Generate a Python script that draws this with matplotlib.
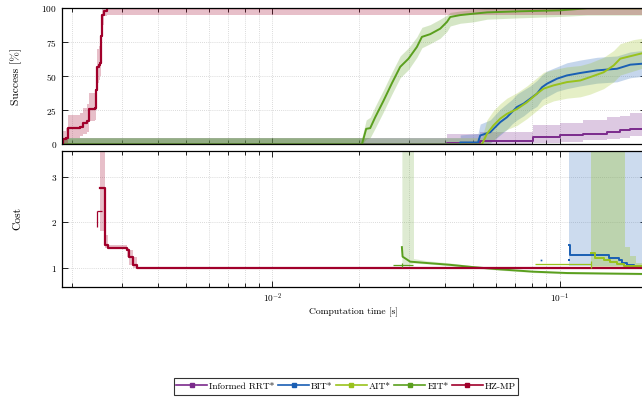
import numpy as np
import matplotlib
matplotlib.use('Agg')
import matplotlib.pyplot as plt
from matplotlib.lines import Line2D
from matplotlib.ticker import LogLocator, NullFormatter, FixedLocator

plt.rcParams['font.family'] = ['cmr10', 'DejaVu Serif']
plt.rcParams['mathtext.fontset'] = 'cm'
plt.rcParams['axes.formatter.use_mathtext'] = True

# ---------------- data ----------------
planners = ['Informed RRT*', 'BIT*', 'AIT*', 'EIT*', 'HZ-MP']
colors = ['#7b2a8c', '#1a5fb4', '#99c21c', '#5a9f1e', '#a1002b']
x_range = [0.001845, 0.2]

# success [%]
rrt_t = [0.001845, 0.04063, 0.05292, 0.08097, 0.1006, 0.1209, 0.1463, 0.1627, 0.1763, 0.2]
rrt_s = [0, 1, 2.5, 5.4, 6.6, 7.8, 9, 10.3, 11.5, 12]
rrt_lo = [0, 0, 0, 1, 2, 3, 4, 5, 6, 6]
rrt_hi = [5, 8, 9, 14, 16, 18, 20, 21, 23, 23]

bit_t = [0.001845, 0.04508, 0.04508, 0.05200, 0.05292, 0.05734, 0.05970, 0.06215, 0.06557,
         0.06825, 0.07105, 0.07492, 0.07904, 0.08342, 0.08684, 0.09040, 0.09793, 0.1061,
         0.1181, 0.1350, 0.1585, 0.1763, 0.1942, 0.2]
bit_s = [0, 0, 1.5, 1.5, 6.6, 9, 12.7, 16.4, 20, 23.8, 27.5, 30, 33.6, 37.3, 42, 44.6, 48.3,
         50.7, 52.5, 54.4, 55.6, 58.6, 59.3, 59.5]
bit_lo = [0, 0, 0, 0, 0, 1, 4, 7, 11, 15, 18, 21, 25, 28, 33, 35, 39, 41, 43, 45, 46, 49, 50, 50]
bit_hi = [5, 5, 7, 8, 15, 18, 22, 26, 30, 33, 37, 40, 43, 47, 51, 54, 57, 60, 62, 64, 65, 68, 69, 69]

ait_t = [0.001845, 0.05364, 0.05585, 0.05888, 0.06215, 0.06557, 0.07105, 0.07699, 0.08342,
         0.08796, 0.09530, 0.1061, 0.1181, 0.1279, 0.1424, 0.1543, 0.1627, 0.1810, 0.1942, 0.2]
ait_s = [0, 0, 7.8, 14, 19, 22.5, 26, 31, 37.3, 41, 43.4, 45.8, 47, 49.5, 53, 58, 63, 65.4, 67, 68]
ait_lo = [0, 0, 0, 3, 8, 11, 14, 19, 25, 29, 32, 34, 35, 37, 41, 46, 51, 54, 56, 57]
ait_hi = [5, 5, 18, 25, 30, 34, 38, 43, 49, 53, 55, 57, 58, 60, 64, 69, 74, 77, 78, 79]

eit_t = [0.001845, 0.02049, 0.02121, 0.02190, 0.02280, 0.02436, 0.02607, 0.02786, 0.02978,
         0.03185, 0.03316, 0.03543, 0.03839, 0.04054, 0.04161, 0.04508, 0.05004, 0.05599,
         0.07297, 0.1006, 0.1249, 0.2]
eit_s = [0, 0, 11.5, 12, 20, 32, 45, 57, 63, 71.6, 79, 81, 85, 90, 93.6, 95, 96, 97, 97.8,
         98.5, 100, 100]
eit_lo = [0, 0, 4, 5, 12, 24, 37, 49, 55, 64, 71, 74, 78, 83, 87, 89, 90, 92, 93, 94, 95, 95]
eit_hi = [5, 5, 18, 20, 28, 40, 53, 65, 71, 79, 86, 88, 92, 95, 97, 98, 99, 100, 100, 100, 100, 100]

hz_t = [0.001845, 0.001858, 0.001910, 0.001933, 0.002138, 0.002190, 0.002262, 0.002298,
        0.002411, 0.002431, 0.002450, 0.002490, 0.002510, 0.002530, 0.002550, 0.002592,
        0.002655, 0.2]
hz_s = [0, 4, 5, 12, 13, 16, 17, 26, 27, 40, 57, 58, 60, 80, 95, 98, 100, 100]
hz_lo = [0, 0, 1, 5, 6, 8, 9, 17, 18, 25, 45, 47, 50, 68, 88, 94, 95, 95]
hz_hi = [6, 10, 12, 22, 23, 27, 30, 38, 40, 55, 70, 72, 75, 92, 100, 100, 100, 100]

# cost
hz_ct = [0.002510, 0.002613, 0.002683, 0.003109, 0.003174, 0.003279, 0.003369, 0.2]
hz_c = [2.75, 1.50, 1.44, 1.39, 1.24, 1.06, 1.00, 1.00]
hz_clo = [1.80, 1.44, 1.40, 1.24, 1.06, 1.00, 1.00, 1.00]
hz_chi = [4.0, 1.72, 1.50, 1.44, 1.39, 1.24, 1.00, 1.00]

eit_ct = [0.02824, 0.02840, 0.03018, 0.03451, 0.04161, 0.05004, 0.06215, 0.08097, 0.1064, 0.1942, 0.2]
eit_c = [1.45, 1.24, 1.13, 1.10, 1.06, 1.01, 0.96, 0.91, 0.88, 0.86, 0.86]
eit_cbt = [0.02824, 0.03099, 0.03099, 0.03451, 0.04161, 0.05004, 0.06215, 0.08097, 0.1064, 0.2]
eit_clo = [1.04, 1.10, 1.10, 1.08, 1.04, 0.99, 0.94, 0.89, 0.86, 0.84]
eit_chi = [4.0, 4.0, 1.20, 1.15, 1.10, 1.04, 0.98, 0.93, 0.90, 0.88]

bit_ct = [0.1081, 0.1090, 0.1481, 0.1605, 0.1650, 0.1717, 0.1810, 0.2]
bit_c = [1.50, 1.28, 1.21, 1.17, 1.10, 1.06, 1.04, 1.04]
bit_clo = [1.03, 1.03, 1.03, 1.03, 1.03, 1.02, 1.02, 1.02]
bit_chi = [4.0, 4.0, 4.0, 4.0, 4.0, 4.0, 4.0, 4.0]

ait_ct = [0.1290, 0.1332, 0.1424, 0.1502, 0.1585, 0.1671, 0.1763, 0.2]
ait_c = [1.33, 1.21, 1.17, 1.13, 1.08, 1.04, 1.03, 1.02]
ait_cbt = [0.1290, 0.1694, 0.1763, 0.1850, 0.2]
ait_clo = [1.02, 1.01, 1.00, 1.00, 1.00]
ait_chi = [4.0, 1.45, 1.25, 1.10, 1.10]

# initial solution markers (HZ-MP, EIT*, AIT*)
init_time = [0.002450, 0.02824, 0.1290]
init_cost = [2.24, 1.06, 1.07]
init_time_lo = [0.002450, 0.02628, 0.08227]
init_time_hi = [0.002544, 0.03099, 0.1290]
init_cost_lo = [1.90, 1.02, 0.99]
init_cost_hi = [2.24, 1.11, 1.14]
init_color_idx = [4, 3, 2]
bit_init_time = [0.08634, 0.1075]
bit_init_cost = [1.17, 1.17]
bit_init_size = [1.2, 2.0]

# ---------------- figure ----------------
fig = plt.figure(figsize=(6.42, 4.0), dpi=100)
ax1 = fig.add_axes([0.0961, 0.6388, 0.9101, 0.3405])
ax2 = fig.add_axes([0.0961, 0.2833, 0.9101, 0.3390])

ALPHA = 0.25
LW = 1.4

# success
ax1.fill_between(rrt_t, rrt_lo, rrt_hi, step='post', color=colors[0], alpha=ALPHA, lw=0)
ax1.step(rrt_t, rrt_s, where='post', color=colors[0], lw=LW)
ax1.fill_between(bit_t, bit_lo, bit_hi, color=colors[1], alpha=ALPHA, lw=0)
ax1.plot(bit_t, bit_s, color=colors[1], lw=LW)
ax1.fill_between(ait_t, ait_lo, ait_hi, color=colors[2], alpha=ALPHA, lw=0)
ax1.plot(ait_t, ait_s, color=colors[2], lw=LW)
ax1.fill_between(eit_t, eit_lo, eit_hi, color=colors[3], alpha=ALPHA, lw=0)
ax1.plot(eit_t, eit_s, color=colors[3], lw=LW)
ax1.fill_between(hz_t, hz_lo, hz_hi, step='post', color=colors[4], alpha=ALPHA, lw=0)
ax1.step(hz_t, hz_s, where='post', color=colors[4], lw=1.6)

# cost
ax2.fill_between(bit_ct, bit_clo, bit_chi, step='post', color=colors[1], alpha=0.22, lw=0)
ax2.step(bit_ct, bit_c, where='post', color=colors[1], lw=LW)
ax2.fill_between(ait_cbt, ait_clo, ait_chi, step='post', color=colors[2], alpha=0.3, lw=0)
ax2.step(ait_ct, ait_c, where='post', color=colors[2], lw=LW)
ax2.fill_between(eit_cbt, eit_clo, eit_chi, color=colors[3], alpha=0.2, lw=0)
ax2.plot(eit_ct, eit_c, color=colors[3], lw=LW)
ax2.fill_between(hz_ct, hz_clo, hz_chi, step='post', color=colors[4], alpha=ALPHA, lw=0)
ax2.step(hz_ct, hz_c, where='post', color=colors[4], lw=1.6)

for i in range(len(init_time)):
    c = colors[init_color_idx[i]]
    ax2.errorbar([init_time[i]], [init_cost[i]],
                 xerr=[[init_time[i] - init_time_lo[i]], [init_time_hi[i] - init_time[i]]],
                 yerr=[[init_cost[i] - init_cost_lo[i]], [init_cost_hi[i] - init_cost[i]]],
                 fmt='none', ecolor=c, elinewidth=0.9, capsize=0)
for bt, bc, bs in zip(bit_init_time, bit_init_cost, bit_init_size):
    ax2.plot([bt], [bc], ls='none', marker='s', ms=bs, mew=0, color=colors[1])

# axes styling
for ax in (ax1, ax2):
    ax.set_xscale('log')
    ax.set_xlim(*x_range)
    ax.xaxis.set_major_locator(LogLocator(base=10))
    ax.xaxis.set_minor_locator(LogLocator(base=10, subs=np.arange(2, 10)))
    ax.xaxis.set_minor_formatter(NullFormatter())
    ax.set_axisbelow(True)
    ax.grid(True, which='both', axis='x', ls=(0, (1, 1.5)), color='#cfcfcf', lw=0.6)
    ax.grid(True, which='major', axis='y', ls=(0, (1, 1.5)), color='#cfcfcf', lw=0.6)
    ax.tick_params(which='both', direction='in', top=True, right=True, labelsize=6.7,
                   width=0.6, pad=3.5)
    ax.tick_params(which='major', length=4)
    ax.tick_params(which='minor', length=2.8)
    for s in ax.spines.values():
        s.set_linewidth(0.9)

ax1.set_ylim(0, 100)
ax1.yaxis.set_major_locator(FixedLocator([0, 25, 50, 75, 100]))
ax1.tick_params(axis='x', labelbottom=False)
ax1.set_ylabel('Success [%]', fontsize=8.3)
ax1.yaxis.set_label_coords(-0.068, 0.5)

ax2.set_ylim(0.58, 3.56)
ax2.yaxis.set_major_locator(FixedLocator([1, 2, 3]))
ax2.set_ylabel('Cost', fontsize=8.3)
ax2.yaxis.set_label_coords(-0.068, 0.5)
ax2.set_xlabel('Computation time [s]', fontsize=6.9, labelpad=2)

handles = [Line2D([], [], color=c, lw=1.2, marker='s', markersize=2.5) for c in colors]
leg = fig.legend(handles, planners, loc='center', bbox_to_anchor=(0.539, 0.034), ncol=5,
                 fontsize=6.8, frameon=True, fancybox=False, edgecolor='black',
                 handlelength=3.3, handleheight=1.6, handletextpad=0.2, columnspacing=0.35,
                 borderpad=0.25, borderaxespad=0)
leg.get_frame().set_linewidth(0.8)

fig.savefig('out.png', dpi=100)
